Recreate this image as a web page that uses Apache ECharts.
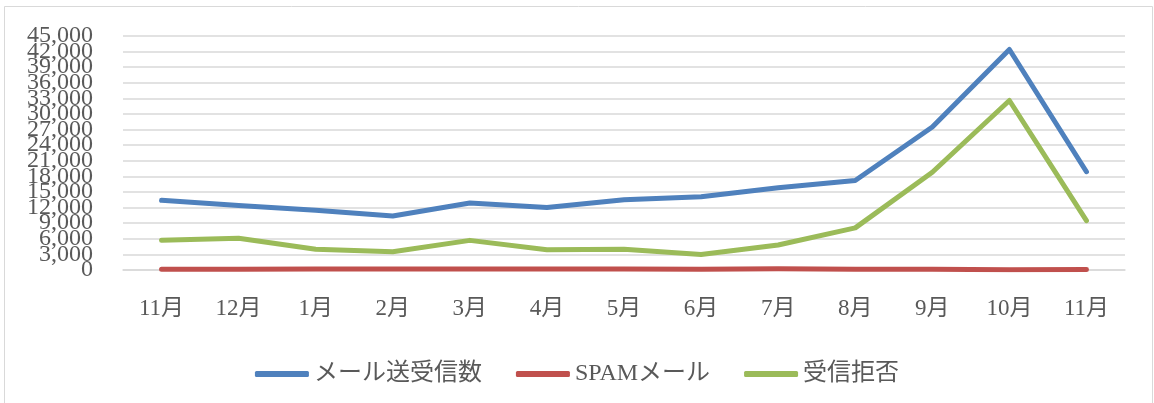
<!DOCTYPE html>
<html><head><meta charset="utf-8">
<script src="https://cdn.jsdelivr.net/npm/echarts@6/dist/echarts.min.js"></script>
<style>html,body{margin:0;padding:0;background:#fff}#c{width:1154px;height:403px}</style>
</head><body><div id="c"></div>
<script>
const categories = ['11月','12月','1月','2月','3月','4月','5月','6月','7月','8月','9月','10月','11月'];
const seriesNames = ['メール送受信数','SPAMメール','受信拒否'];
const mailTotal = [13400,12400,11500,10400,12900,12000,13500,14100,15800,17200,27500,42400,18900];
const spamMail  = [150,150,200,200,200,200,200,150,250,150,150,50,100];
const rejected  = [5700,6100,4000,3500,5700,3900,4000,3000,4800,8100,18800,32600,9500];
const yTicks = {min:0, max:45000, interval:3000};

const FONT = '"Liberation Serif","Noto Sans CJK JP",serif';
const TXT = '#595959';
const chart = echarts.init(document.getElementById('c'), null, {renderer:'canvas'});
const lineSeries = (name, data, color) => ({
  name, type:'line', data, symbol:'none', smooth:false, yAxisIndex:0,
  lineStyle:{color, width:5, cap:'round', join:'round'}, itemStyle:{color},
  animation:false
});
const fmt = v => v.toLocaleString('en-US');
const yBase = {type:'value', position:'left', min:yTicks.min, max:yTicks.max, interval:yTicks.interval,
  axisLine:{show:false}, axisTick:{show:false}};
chart.setOption({
  animation:false,
  backgroundColor:'#fff',
  graphic:[{type:'rect', shape:{x:4.5,y:6.5,width:1148,height:400}, style:{fill:'none', stroke:'#D9D9D9', lineWidth:1}}],
  grid:{left:123, right:29, top:36, bottom:133, containLabel:false},
  xAxis:{type:'category', data:categories, boundaryGap:true,
    axisLine:{show:true, lineStyle:{color:'#D9D9D9', width:1.5}}, axisTick:{show:false},
    axisLabel:{color:TXT, fontFamily:FONT, fontSize:23, margin:27}},
  yAxis:[
    Object.assign({}, yBase, {
      splitLine:{lineStyle:{color:'#D9D9D9', width:1.5}},
      axisLabel:{color:TXT, fontFamily:FONT, fontSize:24, margin:30,
        showMinLabel:false, showMaxLabel:false, formatter:fmt}}),
    Object.assign({}, yBase, {
      splitLine:{show:false},
      axisLabel:{color:TXT, fontFamily:FONT, fontSize:24, margin:30,
        showMinLabel:true, showMaxLabel:true,
        formatter:v => (v===yTicks.min || v===yTicks.max) ? fmt(v) : ''}})
  ],
  legend:{top:357, left:'center', itemWidth:54, itemHeight:6, itemGap:34,
    icon:'roundRect',
    textStyle:{color:TXT, fontFamily:FONT, fontSize:24, padding:[0,0,0,0]},
    data:seriesNames},
  series:[
    lineSeries(seriesNames[0], mailTotal, '#4F81BD'),
    lineSeries(seriesNames[1], spamMail, '#C0504D'),
    lineSeries(seriesNames[2], rejected, '#9BBB59')
  ]
});
</script></body></html>
